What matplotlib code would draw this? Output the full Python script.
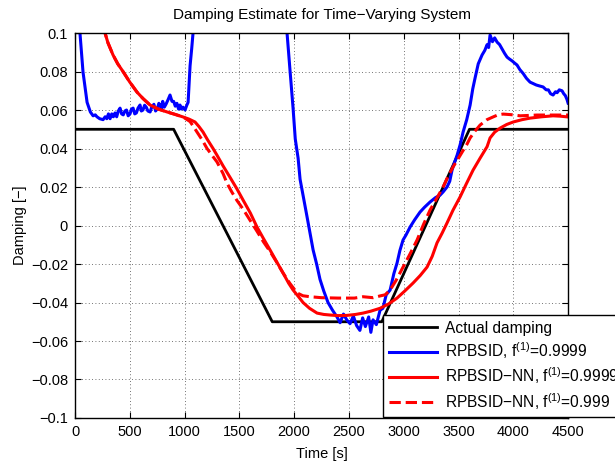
import numpy as np
import matplotlib
matplotlib.use('Agg')
import matplotlib.pyplot as plt

plt.rcParams['font.family'] = ['Liberation Sans', 'DejaVu Sans']
plt.rcParams['mathtext.fontset'] = 'custom'
plt.rcParams['mathtext.rm'] = 'Liberation Sans'
plt.rcParams['mathtext.it'] = 'Liberation Sans:italic'
plt.rcParams['font.size'] = 10.5

# actual damping (piecewise linear)
t_actual = [0, 900, 1800, 2800, 3600, 4500]
d_actual = [0.05, 0.05, -0.05, -0.05, 0.05, 0.05]

# RPBSID, f=0.9999 (two visible segments, goes off the top in between)
t_blue1 = [0, 45, 73, 110, 140, 165, 185, 200, 225, 256, 275, 290, 305, 320,
           335, 350, 365, 380, 395, 411, 425, 440, 455, 470, 485, 502, 515,
           530, 545, 560, 575, 593, 605, 620, 635, 650, 665, 685, 700, 720,
           735, 750, 765, 776, 790, 800, 815, 830, 850, 867, 885, 900, 915,
           930, 945, 958, 970, 985, 1004, 1020, 1032, 1050, 1065, 1077, 1090]
d_blue1 = [0.13, 0.1, 0.0797, 0.064, 0.059, 0.057, 0.0575, 0.0565, 0.0555,
           0.055, 0.0565, 0.0555, 0.058, 0.0555, 0.058, 0.0565, 0.0585,
           0.0565, 0.0595, 0.061, 0.058, 0.0575, 0.0595, 0.06, 0.057, 0.058,
           0.0605, 0.061, 0.058, 0.0585, 0.061, 0.0626, 0.0595, 0.06, 0.0625,
           0.0615, 0.0595, 0.059, 0.0615, 0.063, 0.0595, 0.0605, 0.0635,
           0.0626, 0.0605, 0.0645, 0.0615, 0.063, 0.0655, 0.0678, 0.0645,
           0.0645, 0.062, 0.0635, 0.0605, 0.0626, 0.0605, 0.0615, 0.060,
           0.0625, 0.064, 0.083, 0.092, 0.1, 0.12]
t_blue2 = [1920, 1935, 1963, 1990, 2010, 2036, 2054, 2090, 2118, 2145, 2173,
           2205, 2236, 2270, 2309, 2350, 2391, 2419, 2450, 2480, 2510, 2540,
           2570, 2600, 2625, 2650, 2680, 2700, 2720, 2750, 2784, 2810, 2840,
           2876, 2910, 2939, 2965, 2994, 3020, 3058, 3100, 3149, 3190, 3240,
           3290, 3332, 3360, 3395, 3420, 3441, 3465, 3487, 3515, 3542, 3575,
           3606, 3630, 3651, 3680, 3715, 3740, 3761, 3775, 3788, 3810, 3830,
           3852, 3875, 3900, 3920, 3943, 3965, 3990, 4010, 4034, 4060, 4090,
           4120, 4153, 4180, 4210, 4240, 4272, 4300, 4320, 4340, 4363, 4385,
           4400, 4420, 4445, 4460, 4475, 4490, 4500]
d_blue2 = [0.11, 0.1, 0.08, 0.061, 0.045, 0.035, 0.024, 0.013, 0.0044,
           -0.004, -0.0127, -0.02, -0.028, -0.034, -0.040, -0.044, -0.0475,
           -0.0505, -0.046, -0.049, -0.051, -0.047, -0.052, -0.0545, -0.048,
           -0.0525, -0.0475, -0.0555, -0.049, -0.0515, -0.044, -0.043, -0.036,
           -0.0335, -0.025, -0.0195, -0.013, -0.0075, -0.005, -0.0008, 0.003,
           0.007, 0.0095, 0.0122, 0.0145, 0.0158, 0.0175, 0.020, 0.023,
           0.0288, 0.033, 0.0365, 0.042, 0.0486, 0.055, 0.0626, 0.071, 0.0766,
           0.084, 0.0886, 0.091, 0.094, 0.0925, 0.099, 0.0955, 0.0975, 0.0953,
           0.094, 0.0915, 0.0895, 0.0875, 0.0865, 0.0855, 0.0845, 0.0834,
           0.081, 0.079, 0.0765, 0.0745, 0.0738, 0.073, 0.0725, 0.072, 0.0705,
           0.0705, 0.0685, 0.0678, 0.0695, 0.069, 0.0705, 0.070, 0.0685,
           0.0675, 0.0655, 0.0636]

# RPBSID-NN, f=0.9999
t_red = [250, 274, 300, 347, 390, 438, 500, 566, 620, 685, 760, 840, 910,
         986, 1040, 1095, 1130, 1168, 1210, 1260, 1296, 1351, 1415, 1478,
         1534, 1600, 1661, 1720, 1780, 1840, 1899, 1950, 1990, 2040, 2081,
         2140, 2209, 2270, 2328, 2400, 2480, 2560, 2629, 2700, 2784, 2860,
         2939, 3010, 3085, 3150, 3213, 3260, 3304, 3350, 3395, 3450, 3514,
         3570, 3633, 3697, 3761, 3788, 3830, 3879, 3940, 4000, 4080, 4153,
         4260, 4363, 4430, 4500]
d_red = [0.112, 0.1, 0.095, 0.0886, 0.084, 0.080, 0.0745, 0.0693, 0.066,
         0.0626, 0.0605, 0.059, 0.0578, 0.0564, 0.0553, 0.0538, 0.0515,
         0.0486, 0.0445, 0.040, 0.0365, 0.031, 0.025, 0.019, 0.0132, 0.0065,
         -0.0008, -0.0068, -0.0127, -0.0188, -0.0247, -0.030, -0.0335,
         -0.037, -0.040, -0.043, -0.0455, -0.0462, -0.0465, -0.0468, -0.0467,
         -0.0462, -0.0455, -0.0445, -0.043, -0.0408, -0.0377, -0.034,
         -0.0299, -0.026, -0.0216, -0.016, -0.009, -0.004, 0.0013, 0.008,
         0.0148, 0.0215, 0.0288, 0.035, 0.041, 0.0455, 0.0485, 0.0506,
         0.0525, 0.0538, 0.055, 0.0558, 0.0565, 0.057, 0.0568, 0.0564]

# RPBSID-NN, f=0.999
t_red2 = [250, 274, 300, 347, 390, 438, 500, 566, 620, 685, 760, 840, 910,
          986, 1050, 1080, 1113, 1160, 1205, 1250, 1296, 1351, 1387, 1430,
          1478, 1534, 1600, 1661, 1720, 1780, 1840, 1899, 1960, 2026, 2080,
          2145, 2250, 2400, 2550, 2629, 2720, 2790, 2830, 2876, 2930, 2994,
          3060, 3122, 3180, 3240, 3300, 3359, 3400, 3450, 3500, 3542, 3575,
          3606, 3650, 3697, 3760, 3815, 3860, 3907, 3980, 4062, 4140, 4217,
          4350, 4500]
d_red2 = [0.112, 0.1, 0.095, 0.0886, 0.084, 0.080, 0.0745, 0.0693, 0.066,
          0.0626, 0.0605, 0.059, 0.0578, 0.0564, 0.054, 0.0515, 0.0486,
          0.0445, 0.040, 0.0365, 0.033, 0.027, 0.022, 0.0175, 0.013, 0.0085,
          0.0025, -0.003, -0.0085, -0.0135, -0.019, -0.0247, -0.030, -0.035,
          -0.0365, -0.037, -0.0375, -0.0377, -0.0377, -0.037, -0.0375,
          -0.0365, -0.036, -0.0335, -0.0285, -0.0216, -0.0145, -0.0075,
          0.0005, 0.008, 0.014, 0.020, 0.025, 0.0304, 0.035, 0.039, 0.042,
          0.0455, 0.049, 0.0522, 0.055, 0.0564, 0.0575, 0.0579, 0.0576,
          0.057, 0.0572, 0.0574, 0.0574, 0.0574]

fig = plt.figure(figsize=(6.15, 4.61), dpi=100)
ax = fig.add_axes([0.122, 0.0933, 0.8017, 0.835])

ax.plot(t_actual, d_actual, color='k', lw=2.0, label='Actual damping')
ax.plot(t_blue1, d_blue1, color='#0000ff', lw=2.2,
        label='RPBSID, f$^{(1)}$=0.9999')
ax.plot(t_blue2, d_blue2, color='#0000ff', lw=2.2)
ax.plot(t_red, d_red, color='#ff0000', lw=2.2,
        label='RPBSID\u2212NN, f$^{(1)}$=0.9999')
ax.plot(t_red2, d_red2, color='#ff0000', lw=2.2, ls='--',
        label='RPBSID\u2212NN, f$^{(1)}$=0.999')

ax.set_xlim(0, 4500)
ax.set_ylim(-0.1, 0.1)
ax.set_xticks(np.arange(0, 4501, 500))
yt = np.arange(-0.1, 0.1001, 0.02)
ax.set_yticks(yt)
ax.set_yticklabels([('%g' % round(v, 2)).replace('-', '\u2212') for v in yt])

ax.grid(True, ls=(0, (1, 3)), color='#444444', lw=0.6)
ax.tick_params(direction='in', top=True, right=True, length=4, width=0.8,
               pad=5)
for s in ax.spines.values():
    s.set_linewidth(1.0)

ax.set_xlabel('Time [s]', labelpad=6)
ax.set_ylabel('Damping [\u2212]', labelpad=3)
ax.set_title('Damping Estimate for Time\u2212Varying System', fontsize=11,
             pad=10)

leg = ax.legend(loc='lower left', bbox_to_anchor=(0.625, 0.002),
                borderaxespad=0, fancybox=False, fontsize=11.2,
                edgecolor='k', framealpha=1, handlelength=3.1,
                labelspacing=0.3, borderpad=0.35, handletextpad=0.5)
leg.get_frame().set_linewidth(1.0)

fig.savefig('out.png', dpi=100)
